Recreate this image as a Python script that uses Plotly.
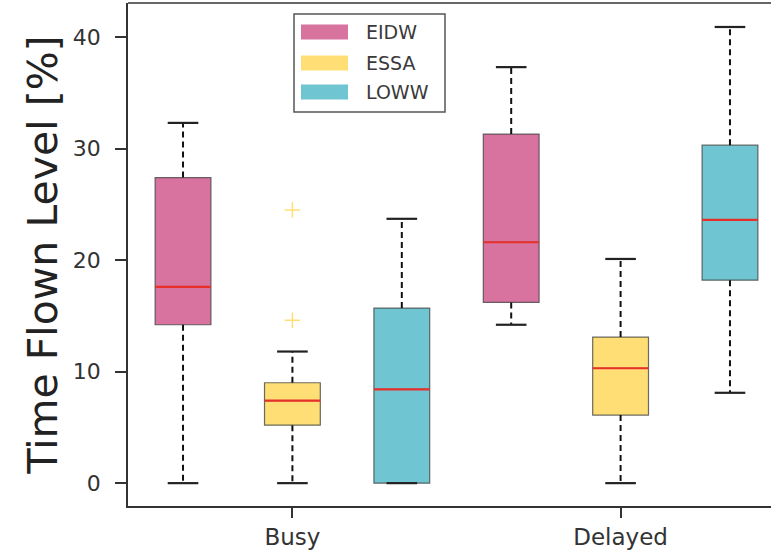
import plotly.graph_objects as go

# ---------------- data ----------------
categories = ["Busy", "Delayed"]
sites = ["EIDW", "ESSA", "LOWW"]

eidw_lower = [0.0, 14.2]
eidw_q1 = [14.2, 16.2]
eidw_median = [17.6, 21.6]
eidw_q3 = [27.4, 31.3]
eidw_upper = [32.3, 37.3]

essa_lower = [0.0, 0.0]
essa_q1 = [5.2, 6.1]
essa_median = [7.4, 10.3]
essa_q3 = [9.0, 13.1]
essa_upper = [11.8, 20.1]

loww_lower = [0.0, 8.1]
loww_q1 = [0.0, 18.2]
loww_median = [8.4, 23.6]
loww_q3 = [15.7, 30.3]
loww_upper = [23.7, 40.9]

essa_busy_fliers = [24.5, 14.6]

y_ticks = [0, 10, 20, 30, 40]

# ---------------- styles ----------------
fill_colors = {"EIDW": "#D8739F", "ESSA": "#FFDF75", "LOWW": "#6FC5D2"}
edge_color = "rgba(70,70,70,0.8)"
median_color = "#E8302A"
font_family = "DejaVu Sans"

stats = {
    "EIDW": (eidw_lower, eidw_q1, eidw_median, eidw_q3, eidw_upper),
    "ESSA": (essa_lower, essa_q1, essa_median, essa_q3, essa_upper),
    "LOWW": (loww_lower, loww_q1, loww_median, loww_q3, loww_upper),
}

n_sites = len(sites)
box_w = 0.51
cap_half = 0.14


def positions(site_idx):
    return [ci * n_sites + site_idx + 1 for ci in range(len(categories))]


fig = go.Figure()

# boxes
for si, s in enumerate(sites):
    lo, q1, med, q3, up = stats[s]
    fig.add_trace(go.Box(
        x=positions(si), q1=q1, median=med, q3=q3,
        lowerfence=q1, upperfence=q3,
        width=box_w, fillcolor=fill_colors[s],
        line=dict(color=edge_color, width=1.2),
        name=s, showlegend=False, hoverinfo="skip", boxpoints=False,
    ))

# whiskers (dashed), caps, medians
for si, s in enumerate(sites):
    lo, q1, med, q3, up = stats[s]
    xs = positions(si)
    wx, wy, cx, cy, mx, my = [], [], [], [], [], []
    for i, p in enumerate(xs):
        wx += [p, p, None, p, p, None]
        wy += [q3[i], up[i], None, q1[i], lo[i], None]
        cx += [p - cap_half, p + cap_half, None, p - cap_half, p + cap_half, None]
        cy += [up[i], up[i], None, lo[i], lo[i], None]
        mx += [p - box_w / 2, p + box_w / 2, None]
        my += [med[i], med[i], None]
    fig.add_trace(go.Scatter(x=wx, y=wy, mode="lines",
                             line=dict(color="#111111", width=2, dash="6px,4px"),
                             showlegend=False, hoverinfo="skip"))
    fig.add_trace(go.Scatter(x=cx, y=cy, mode="lines",
                             line=dict(color="#222222", width=2.2),
                             showlegend=False, hoverinfo="skip"))
    fig.add_trace(go.Scatter(x=mx, y=my, mode="lines",
                             line=dict(color=median_color, width=2.2),
                             showlegend=False, hoverinfo="skip"))

# fliers
essa_idx = sites.index("ESSA")
fig.add_trace(go.Scatter(
    x=[positions(essa_idx)[0]] * len(essa_busy_fliers), y=essa_busy_fliers,
    mode="markers",
    marker=dict(symbol="cross-thin", size=11,
                line=dict(color="rgba(255,220,100,0.9)", width=1.5)),
    showlegend=False, hoverinfo="skip"))

# ---------------- layout ----------------
W, H = 771, 555
ml, mr, mt, mb = 128, 0, 3, 49
pw, ph = W - ml - mr, H - mt - mb


def px(xp):
    return (xp - ml) / pw


def py(yp):
    return (H - mb - yp) / ph


shapes = [
    # top spine
    dict(type="line", xref="paper", yref="paper", x0=0, x1=1, y0=1, y1=1,
         line=dict(color="#333333", width=1.5)),
    # legend frame
    dict(type="rect", xref="paper", yref="paper",
         x0=px(294), x1=px(445), y0=py(112), y1=py(14),
         line=dict(color="#555555", width=1.5), fillcolor="rgba(255,255,255,0.9)"),
]
annotations = []
row_y = [32, 63, 92]
for s, ry in zip(sites, row_y):
    shapes.append(dict(type="rect", xref="paper", yref="paper",
                       x0=px(301), x1=px(348), y0=py(ry + 7.5), y1=py(ry - 7.5),
                       line=dict(width=0), fillcolor=fill_colors[s]))
    annotations.append(dict(xref="paper", yref="paper", x=px(364), y=py(ry),
                            xanchor="left", yanchor="middle", text=s, showarrow=False,
                            font=dict(family=font_family, size=19, color="#3a3a3a")))

fig.update_layout(
    width=W, height=H,
    margin=dict(l=ml, r=mr, t=mt, b=mb, pad=0, autoexpand=False),
    paper_bgcolor="white", plot_bgcolor="white",
    showlegend=False,
    shapes=shapes, annotations=annotations,
    font=dict(family=font_family, color="#333333"),
    xaxis=dict(
        range=[0.497, 6.375], tickmode="array", automargin=False,
        tickvals=[ci * n_sites + essa_idx + 1 for ci in range(len(categories))],
        ticktext=categories, ticks="outside", ticklen=10, tickwidth=1.5,
        tickcolor="#333333", showline=True, linecolor="#333333", linewidth=1.5,
        showgrid=False, zeroline=False,
        tickfont=dict(family=font_family, size=23, color="#333333"),
    ),
    yaxis=dict(
        range=[-2.05, 43.05], tickmode="array", tickvals=y_ticks, automargin=False,
        ticktext=[str(t) for t in y_ticks],
        ticks="outside", ticklen=11, tickwidth=1.5, tickcolor="#333333",
        ticklabelstandoff=10,
        showline=True, linecolor="#333333", linewidth=1.5,
        showgrid=False, zeroline=False,
        tickfont=dict(family=font_family, size=22, color="#333333"),
        title=dict(text="Time Flown Level [%]", standoff=2,
                   font=dict(family=font_family, size=41, color="#222222")),
    ),
)

fig.write_html("out.html", config={"displayModeBar": False},
               post_script="document.body.style.margin='0';")
